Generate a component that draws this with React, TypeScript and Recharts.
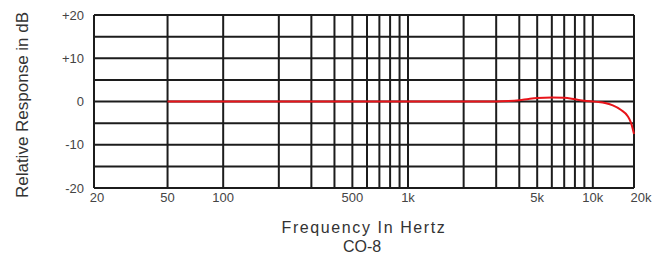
import React from "react";
import { LineChart, Line, XAxis, YAxis, CartesianGrid, Label } from "recharts";

// measured response of the CO-8 (dB relative to 1k)
const freqs = [50, 1000, 3000, 3500, 4000, 4500, 5000, 6000, 7000, 8000, 9000, 10000, 11000, 12500, 14000, 16000, 18000, 19000, 20000];
const response = [0, 0, 0, 0.1, 0.3, 0.6, 0.8, 0.9, 0.85, 0.5, 0.15, 0, -0.1, -0.4, -0.9, -1.9, -3.4, -4.9, -7.5];

const gridFreqs = [20, 50, 100, 200, 300, 400, 500, 600, 700, 800, 900, 1000, 2000, 3000, 4000, 5000, 6000, 7000, 8000, 9000, 10000, 20000];
const labeledFreqs = [20, 50, 100, 500, 1000, 5000, 10000, 20000];
const freqLabels = ["20", "50", "100", "500", "1k", "5k", "10k", "20k"];

const dbTicks = [-20, -15, -10, -5, 0, 5, 10, 15, 20];
const dbLabeled = [-20, -10, 0, 10, 20];
const dbLabels = ["-20", "-10", "0", "+10", "+20"];

// the printed chart squeezes the last octave (10k-20k)
const TOP_OCTAVE = 0.74;
const toPos = (f: number) =>
  f <= 10000 ? Math.log10(f) : 4 + Math.log10(f / 10000) * TOP_OCTAVE;

const data = freqs.map((f, i) => ({ f, pos: toPos(f), db: response[i] }));

const FONT = "'Liberation Sans', Arial, sans-serif";

const FreqTick = (props: any) => {
  const { x, y, payload } = props;
  const idx = labeledFreqs.findIndex((f) => Math.abs(toPos(f) - payload.value) < 1e-9);
  if (idx < 0) return null;
  const dx = labeledFreqs[idx] === 20000 ? 7 : labeledFreqs[idx] === 20 ? 3 : 0;
  return (
    <text x={x + dx} y={y} dy="0.71em" textAnchor="middle" fontSize={13} fill="#444" fontFamily={FONT}>
      {freqLabels[idx]}
    </text>
  );
};

const DbTick = (props: any) => {
  const { x, y, payload } = props;
  const idx = dbLabeled.indexOf(payload.value);
  if (idx < 0) return null;
  return (
    <text x={x} y={y} dy="0.35em" textAnchor="end" fontSize={13} fill="#444" fontFamily={FONT}>
      {dbLabels[idx]}
    </text>
  );
};

export default function App() {
  return (
    <div style={{ position: "absolute", left: 0, top: 0, background: "#fff" }}>
      <LineChart width={662} height={263} data={data} margin={{ top: 15, right: 28, left: 0, bottom: 0 }}>
        <CartesianGrid stroke="#1c1c1c" strokeWidth={2} />
        <XAxis
          type="number"
          dataKey="pos"
          domain={[toPos(20), toPos(20000)]}
          ticks={gridFreqs.map(toPos)}
          interval={0}
          axisLine={false}
          tickLine={false}
          tickSize={0}
          tickMargin={5}
          height={75}
          tick={FreqTick}
        >
          <Label
            content={() => (
              <g fontFamily={FONT} fill="#333" fontSize={16} textAnchor="middle">
                <text x={364} y={233} letterSpacing={1.6}>Frequency In Hertz</text>
                <text x={362} y={252}>CO-8</text>
              </g>
            )}
          />
        </XAxis>
        <YAxis
          type="number"
          domain={[-20, 20]}
          ticks={dbTicks}
          interval={0}
          axisLine={false}
          tickLine={false}
          tickSize={0}
          tickMargin={10}
          width={94}
          tick={DbTick}
        >
          <Label
            content={() => (
              <text
                x={22}
                y={105}
                transform="rotate(-90 22 105)"
                textAnchor="middle"
                dominantBaseline="central"
                fontSize={17}
                fill="#333"
                fontFamily={FONT}
              >
                Relative Response in dB
              </text>
            )}
          />
        </YAxis>
        <Line
          type="monotone"
          dataKey="db"
          stroke="#e8141a"
          strokeWidth={2}
          dot={false}
          isAnimationActive={false}
        />
      </LineChart>
    </div>
  );
}
